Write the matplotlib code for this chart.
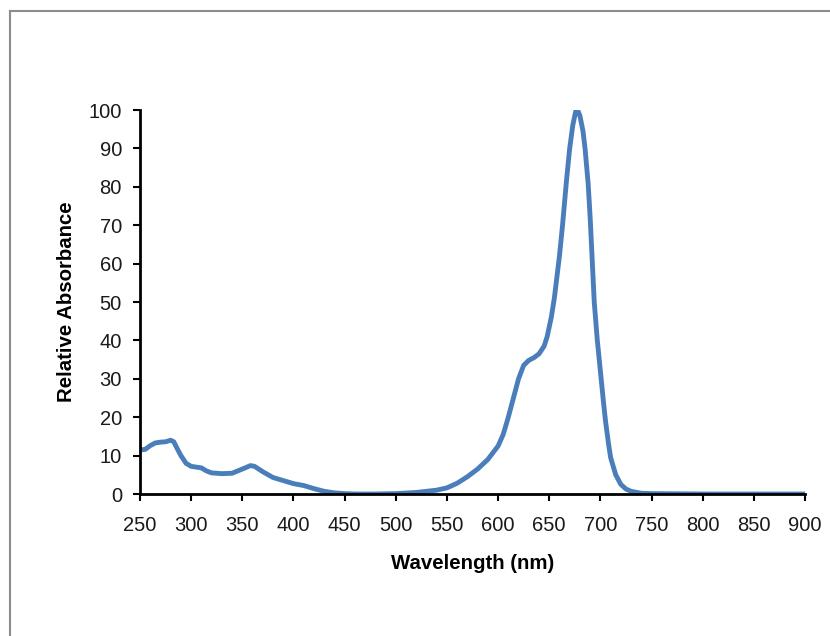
import matplotlib

matplotlib.use('Agg')

import matplotlib.pyplot as plt
from matplotlib.lines import Line2D

# absorbance spectrum
wavelength = [250, 255, 260, 265, 270, 275, 280, 283, 287, 290, 295, 300, 305, 310,
              315, 320, 330, 340, 350, 358, 362, 370, 380, 390, 400, 410, 420, 430,
              440, 450, 460, 480, 500, 520, 540, 550, 560, 570, 580, 590, 600, 605,
              610, 615, 620, 625, 630, 635, 640, 645, 648, 652, 655, 660, 663, 667,
              670, 673, 676, 678, 680, 683, 685, 688, 690, 694, 697, 700, 703, 705, 708, 710,
              715, 720, 725, 730, 740, 750, 800, 850, 900]
absorbance = [11.5, 11.6, 12.6, 13.3, 13.5, 13.6, 14.0, 13.6, 11.5, 10.0, 8.0, 7.2, 7.0, 6.8,
              6.0, 5.5, 5.3, 5.4, 6.5, 7.4, 7.2, 5.8, 4.3, 3.5, 2.7, 2.2, 1.4, 0.7,
              0.3, 0.1, 0.0, 0.0, 0.1, 0.4, 1.0, 1.6, 2.8, 4.5, 6.5, 9.0, 12.5, 15.5,
              20.0, 25.0, 30.0, 33.5, 34.8, 35.5, 36.5, 38.5, 41.0, 46.0, 51.0, 62.0, 70.0, 82.0,
              90.0, 96.0, 99.8, 99.8, 98.5, 94.5, 90.0, 81.0, 72.0, 50.0, 40.0, 32.0, 24.0, 19.0, 13.0, 9.5,
              5.0, 2.5, 1.3, 0.7, 0.2, 0.1, 0.0, 0.0, 0.0]

xticks = list(range(250, 901, 50))
yticks = list(range(0, 101, 10))

plt.rcParams['font.family'] = ['Liberation Sans', 'DejaVu Sans']

fig = plt.figure(figsize=(8.3, 6.36), dpi=100)
ax = fig.add_axes([140 / 830, 1 - 494 / 636, 665 / 830, 384 / 636])

ax.plot(wavelength, absorbance, color='#4A7EBB', linewidth=3.5,
        solid_capstyle='round', solid_joinstyle='round')

ax.set_xlim(250, 900)
ax.set_ylim(0, 100)
ax.set_xticks(xticks)
ax.set_yticks(yticks)
ax.tick_params(axis='both', direction='out', length=5, width=1.5, labelsize=14.5,
               colors='black', labelcolor='#1a1a1a')
ax.tick_params(axis='x', pad=11)
ax.tick_params(axis='y', pad=8)

for side in ['top', 'right']:
    ax.spines[side].set_visible(False)
for side in ['left', 'bottom']:
    ax.spines[side].set_linewidth(2)
    ax.spines[side].set_color('black')

ax.set_xlabel('Wavelength (nm)', fontsize=14.7, fontweight='bold')
ax.set_ylabel('Relative Absorbance', fontsize=14.7, fontweight='bold')
ax.xaxis.set_label_coords(0.5, (494 - 554) / 384)
ax.yaxis.set_label_coords((76 - 140) / 665, 0.5)

# grey frame of the chart area (only top and left edges show)
fig.add_artist(Line2D([9.5 / 830, 9.5 / 830], [0, 1 - 10.5 / 636], color='#8c8c8c', linewidth=1.5))
fig.add_artist(Line2D([9.5 / 830, 1], [1 - 10.5 / 636, 1 - 10.5 / 636], color='#8c8c8c', linewidth=1.5))

fig.savefig('out.png', dpi=100)
plt.close(fig)
